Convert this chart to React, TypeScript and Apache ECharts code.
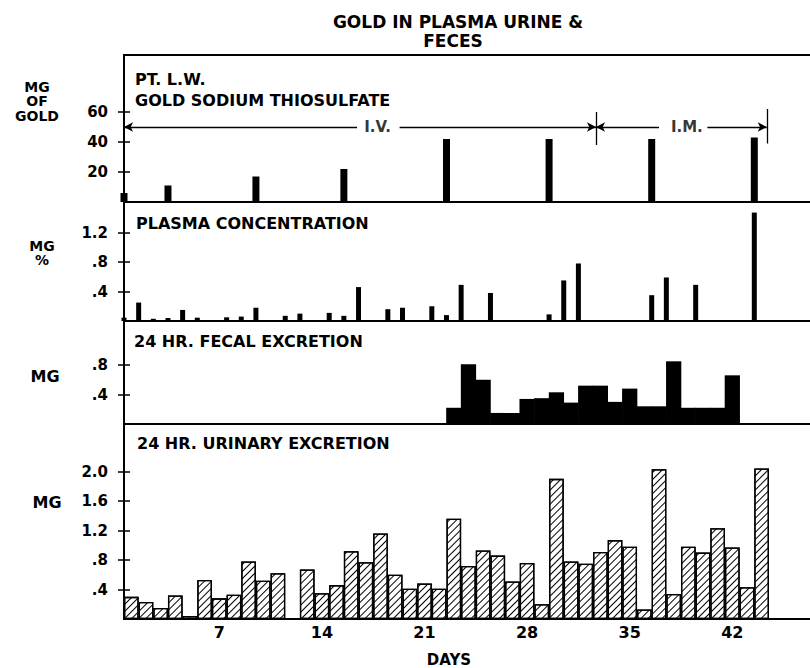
import React, { useEffect, useRef } from 'react';
import * as echarts from 'echarts';

// ---------- data ----------
const TITLE_LINES = ['GOLD IN PLASMA URINE &', 'FECES'];
const X_LABEL = 'DAYS';
const DAY_MIN = 0.5;
const DAY_MAX = 47.3;
const DAY_TICKS = [7, 14, 21, 28, 35, 42];

// dose of gold sodium thiosulfate (mg), given at these day positions
const DOSE_DAYS = [0.5, 3.5, 9.5, 15.5, 22.5, 29.5, 36.5, 43.5];
const DOSE_MG = [6, 11, 17, 22, 42, 42, 42, 43];
const DOSE_TICKS = [20, 40, 60];

// route of administration annotations
const ROUTE_LABELS = ['I.V.', 'I.M.'];
const ROUTE_LABEL_DAYS = [17.8, 38.9];
const ROUTE_LEVEL = 50;
const IV_SEGMENTS = [[0.5, 16.4], [19.3, 32.7]];
const IM_SEGMENTS = [[32.7, 37.0], [40.3, 44.35]];
const ROUTE_BOUNDS = [
  { day: 32.7, lo: 38, hi: 60 },
  { day: 44.35, lo: 39, hi: 62 },
];

// plasma concentration (mg %)
const PLASMA_DAYS = [0.5, 1.5, 2.5, 3.5, 4.5, 5.5, 7.5, 8.5, 9.5, 11.5, 12.5, 14.5, 15.5, 16.5, 18.5, 19.5, 21.5, 22.5, 23.5, 25.5, 29.5, 30.5, 31.5, 36.5, 37.5, 39.5, 43.5];
const PLASMA_MG = [0.045, 0.25, 0.03, 0.04, 0.15, 0.045, 0.05, 0.06, 0.18, 0.07, 0.10, 0.11, 0.07, 0.46, 0.16, 0.18, 0.20, 0.08, 0.49, 0.38, 0.09, 0.55, 0.78, 0.35, 0.59, 0.49, 1.47];
const PLASMA_TICKS = [0.4, 0.8, 1.2];

// 24 hr fecal excretion (mg)
const FECAL_DAYS = [23, 24, 25, 26, 27, 28, 29, 30, 31, 32, 33, 34, 35, 36, 37, 38, 39, 40, 41, 42];
const FECAL_MG = [0.22, 0.81, 0.60, 0.15, 0.15, 0.34, 0.35, 0.43, 0.29, 0.52, 0.52, 0.30, 0.48, 0.24, 0.24, 0.85, 0.22, 0.22, 0.22, 0.66];
const FECAL_TICKS = [0.4, 0.8];

// 24 hr urinary excretion (mg)
const URINE_DAYS = [1, 2, 3, 4, 5, 6, 7, 8, 9, 10, 11, 12, 13, 14, 15, 16, 17, 18, 19, 20, 21, 22, 23, 24, 25, 26, 27, 28, 29, 30, 31, 32, 33, 34, 35, 36, 37, 38, 39, 40, 41, 42, 43, 44];
const URINE_MG = [0.30, 0.23, 0.15, 0.32, 0.04, 0.53, 0.28, 0.33, 0.78, 0.52, 0.62, null, 0.67, 0.35, 0.46, 0.92, 0.77, 1.16, 0.60, 0.41, 0.48, 0.41, 1.36, 0.72, 0.93, 0.86, 0.51, 0.76, 0.20, 1.90, 0.78, 0.75, 0.91, 1.07, 0.98, 0.13, 2.03, 0.34, 0.98, 0.90, 1.23, 0.97, 0.43, 2.04];
const URINE_TICKS = [0.4, 0.8, 1.2, 1.6, 2.0];

const PANEL_TITLES = [
  ['PT. L.W.', 'GOLD SODIUM THIOSULFATE'],
  ['PLASMA CONCENTRATION'],
  ['24 HR. FECAL EXCRETION'],
  ['24 HR. URINARY EXCRETION'],
];
const UNIT_LABELS = ['MG\nOF\nGOLD', 'MG\n%', 'MG', 'MG'];

// ---------- layout (pixels) ----------
const W = 810;
const H = 668;
const GRID_LEFT = 124;
const PANELS = [
  { top: 55, height: 147, pxPerUnit: 1.5 },
  { top: 202, height: 119, pxPerUnit: 73.75 },
  { top: 321, height: 103, pxPerUnit: 73.75 },
  { top: 424, height: 195, pxPerUnit: 73.75 },
];
const TITLE_POS = [
  [{ x: 135, y: 79 }, { x: 135, y: 100 }],
  [{ x: 136, y: 223 }],
  [{ x: 134, y: 341 }],
  [{ x: 137, y: 443 }],
];
const UNIT_POS = [
  { x: 37, y: 101, size: 14 },
  { x: 42, y: 253, size: 14 },
  { x: 45, y: 376, size: 16 },
  { x: 47, y: 502, size: 16 },
];

const FONT = '"DejaVu Sans", sans-serif';
const INK = '#000';

const fmtDecimal = (v: number) => {
  const s = Number(v).toFixed(1);
  return v < 1 ? s.slice(1) : s;
};
const fmtInt = (v: number) => String(Math.round(v));

function yAxesFor(gridIndex: number, max: number, ticks: number[], fmt: (v: number) => string) {
  const tickLine = { color: INK, width: 1.5 };
  return [
    {
      type: 'value', gridIndex, min: 0, max, position: 'left',
      splitLine: { show: false },
      axisLine: { show: true, onZero: false, lineStyle: { color: INK, width: 2 } },
      axisTick: { show: true, customValues: ticks, length: 6, lineStyle: tickLine },
      axisLabel: {
        show: true, customValues: ticks, formatter: fmt, margin: 16,
        color: INK, fontFamily: FONT, fontWeight: 'bold', fontSize: 15,
      },
    },
    {
      type: 'value', gridIndex, min: 0, max, position: 'left',
      splitLine: { show: false },
      axisLine: { show: false },
      axisTick: { show: true, inside: true, customValues: ticks, length: 6, lineStyle: tickLine },
      axisLabel: { show: false, customValues: ticks },
    },
  ];
}

function buildOption() {
  const gridW = W - GRID_LEFT;
  const dayPx = gridW / (DAY_MAX - DAY_MIN);
  const maxes = PANELS.map((p) => p.height / p.pxPerUnit);

  const grids = PANELS.map((p) => ({ left: GRID_LEFT, right: 0, top: p.top, height: p.height, containLabel: false }));

  const xAxes: any[] = PANELS.map((_, i) => ({
    type: 'value', gridIndex: i, min: DAY_MIN, max: DAY_MAX, position: 'bottom',
    splitLine: { show: false },
    axisLine: { show: true, onZero: false, lineStyle: { color: INK, width: 2 } },
    axisTick: { show: false },
    axisLabel: {
      show: i === 3, customValues: DAY_TICKS, margin: 5,
      color: INK, fontFamily: FONT, fontWeight: 'bold', fontSize: 16,
    },
  }));
  xAxes.push({
    type: 'value', gridIndex: 0, min: DAY_MIN, max: DAY_MAX, position: 'top',
    splitLine: { show: false },
    axisLine: { show: true, onZero: false, lineStyle: { color: INK, width: 2 } },
    axisTick: { show: false }, axisLabel: { show: false },
  });

  const yAxes = [
    ...yAxesFor(0, maxes[0], DOSE_TICKS, fmtInt),
    ...yAxesFor(1, maxes[1], PLASMA_TICKS, fmtDecimal),
    ...yAxesFor(2, maxes[2], FECAL_TICKS, fmtDecimal),
    ...yAxesFor(3, maxes[3], URINE_TICKS, fmtDecimal),
  ];

  const arrowEnd = { symbol: 'arrow', symbolSize: [7, 9] };
  const plain = { symbol: 'none' };
  const routeLines: any[] = [];
  IV_SEGMENTS.forEach((s, i) => {
    routeLines.push([
      { coord: [s[0], ROUTE_LEVEL], ...(i === 0 ? arrowEnd : plain) },
      { coord: [s[1], ROUTE_LEVEL], ...(i === IV_SEGMENTS.length - 1 ? arrowEnd : plain) },
    ]);
  });
  IM_SEGMENTS.forEach((s, i) => {
    routeLines.push([
      { coord: [s[0], ROUTE_LEVEL], ...(i === 0 ? arrowEnd : plain) },
      { coord: [s[1], ROUTE_LEVEL], ...(i === IM_SEGMENTS.length - 1 ? arrowEnd : plain) },
    ]);
  });
  ROUTE_BOUNDS.forEach((b) => {
    routeLines.push([{ coord: [b.day, b.lo], ...plain }, { coord: [b.day, b.hi], ...plain }]);
  });

  const series: any[] = [
    {
      type: 'bar', name: 'dose', xAxisIndex: 0, yAxisIndex: 0, clip: false,
      barWidth: 7, itemStyle: { color: INK },
      data: DOSE_DAYS.map((d, i) => [d, DOSE_MG[i]]),
      markLine: {
        silent: true, symbol: 'none', animation: false,
        label: { show: false },
        lineStyle: { color: INK, width: 1.3, type: 'solid' },
        emphasis: { disabled: true },
        data: routeLines,
      },
    },
    {
      type: 'scatter', name: 'route', xAxisIndex: 0, yAxisIndex: 0, silent: true,
      symbolSize: 0, itemStyle: { color: 'transparent' },
      data: ROUTE_LABEL_DAYS.map((d, i) => [d, ROUTE_LEVEL, ROUTE_LABELS[i]]),
      label: {
        show: true, position: 'inside', formatter: (p: any) => p.data[2],
        color: INK, fontFamily: FONT, fontWeight: 'bold', fontSize: 15,
      },
    },
    {
      type: 'bar', name: 'plasma', xAxisIndex: 1, yAxisIndex: 2, clip: false,
      barWidth: 5, itemStyle: { color: INK },
      data: PLASMA_DAYS.map((d, i) => [d, PLASMA_MG[i]]),
    },
    {
      type: 'bar', name: 'fecal', xAxisIndex: 2, yAxisIndex: 4,
      barWidth: dayPx + 0.6, itemStyle: { color: INK },
      data: FECAL_DAYS.map((d, i) => [d, FECAL_MG[i]]),
    },
    {
      type: 'bar', name: 'urine', xAxisIndex: 3, yAxisIndex: 6,
      barWidth: dayPx,
      itemStyle: {
        color: '#fff', borderColor: INK, borderWidth: 1.3,
        decal: {
          symbol: 'rect', symbolSize: 1, dashArrayX: [1, 0], dashArrayY: [1, 3.4],
          rotation: -Math.PI / 4, color: INK,
        },
      },
      data: URINE_DAYS.map((d, i) => [d, URINE_MG[i]]),
    },
  ];

  const textStyle = (size: number) => ({ fill: INK, fontFamily: FONT, fontWeight: 'bold', fontSize: size });
  const graphics: any[] = [];
  graphics.push({ type: 'text', x: 458, y: 21.5, style: { text: TITLE_LINES[0], align: 'center', verticalAlign: 'middle', ...textStyle(17) } });
  graphics.push({ type: 'text', x: 453, y: 41, style: { text: TITLE_LINES[1], align: 'center', verticalAlign: 'middle', ...textStyle(17) } });
  PANEL_TITLES.forEach((lines, i) => lines.forEach((t, j) => {
    const p = TITLE_POS[i][j];
    graphics.push({ type: 'text', x: p.x, y: p.y, style: { text: t, align: 'left', verticalAlign: 'middle', ...textStyle(16) } });
  }));
  UNIT_LABELS.forEach((t, i) => {
    const p = UNIT_POS[i];
    graphics.push({
      type: 'text', x: p.x, y: p.y,
      style: { text: t, align: 'center', verticalAlign: 'middle', lineHeight: 14.5, ...textStyle(p.size) },
    });
  });
  graphics.push({ type: 'text', x: 449, y: 660, style: { text: X_LABEL, align: 'center', verticalAlign: 'middle', ...textStyle(15) } });

  return {
    animation: false,
    backgroundColor: '#fff',
    grid: grids,
    xAxis: xAxes,
    yAxis: yAxes,
    series,
    graphic: graphics,
  };
}

export default function App() {
  const ref = useRef<HTMLDivElement>(null);
  useEffect(() => {
    if (!ref.current) return;
    const chart = echarts.init(ref.current, undefined, { renderer: 'svg' });
    chart.setOption(buildOption() as any);
    return () => chart.dispose();
  }, []);
  return (
    <div
      ref={ref}
      style={{ position: 'fixed', left: 0, top: 0, width: W, height: H, background: '#fff' }}
    />
  );
}
